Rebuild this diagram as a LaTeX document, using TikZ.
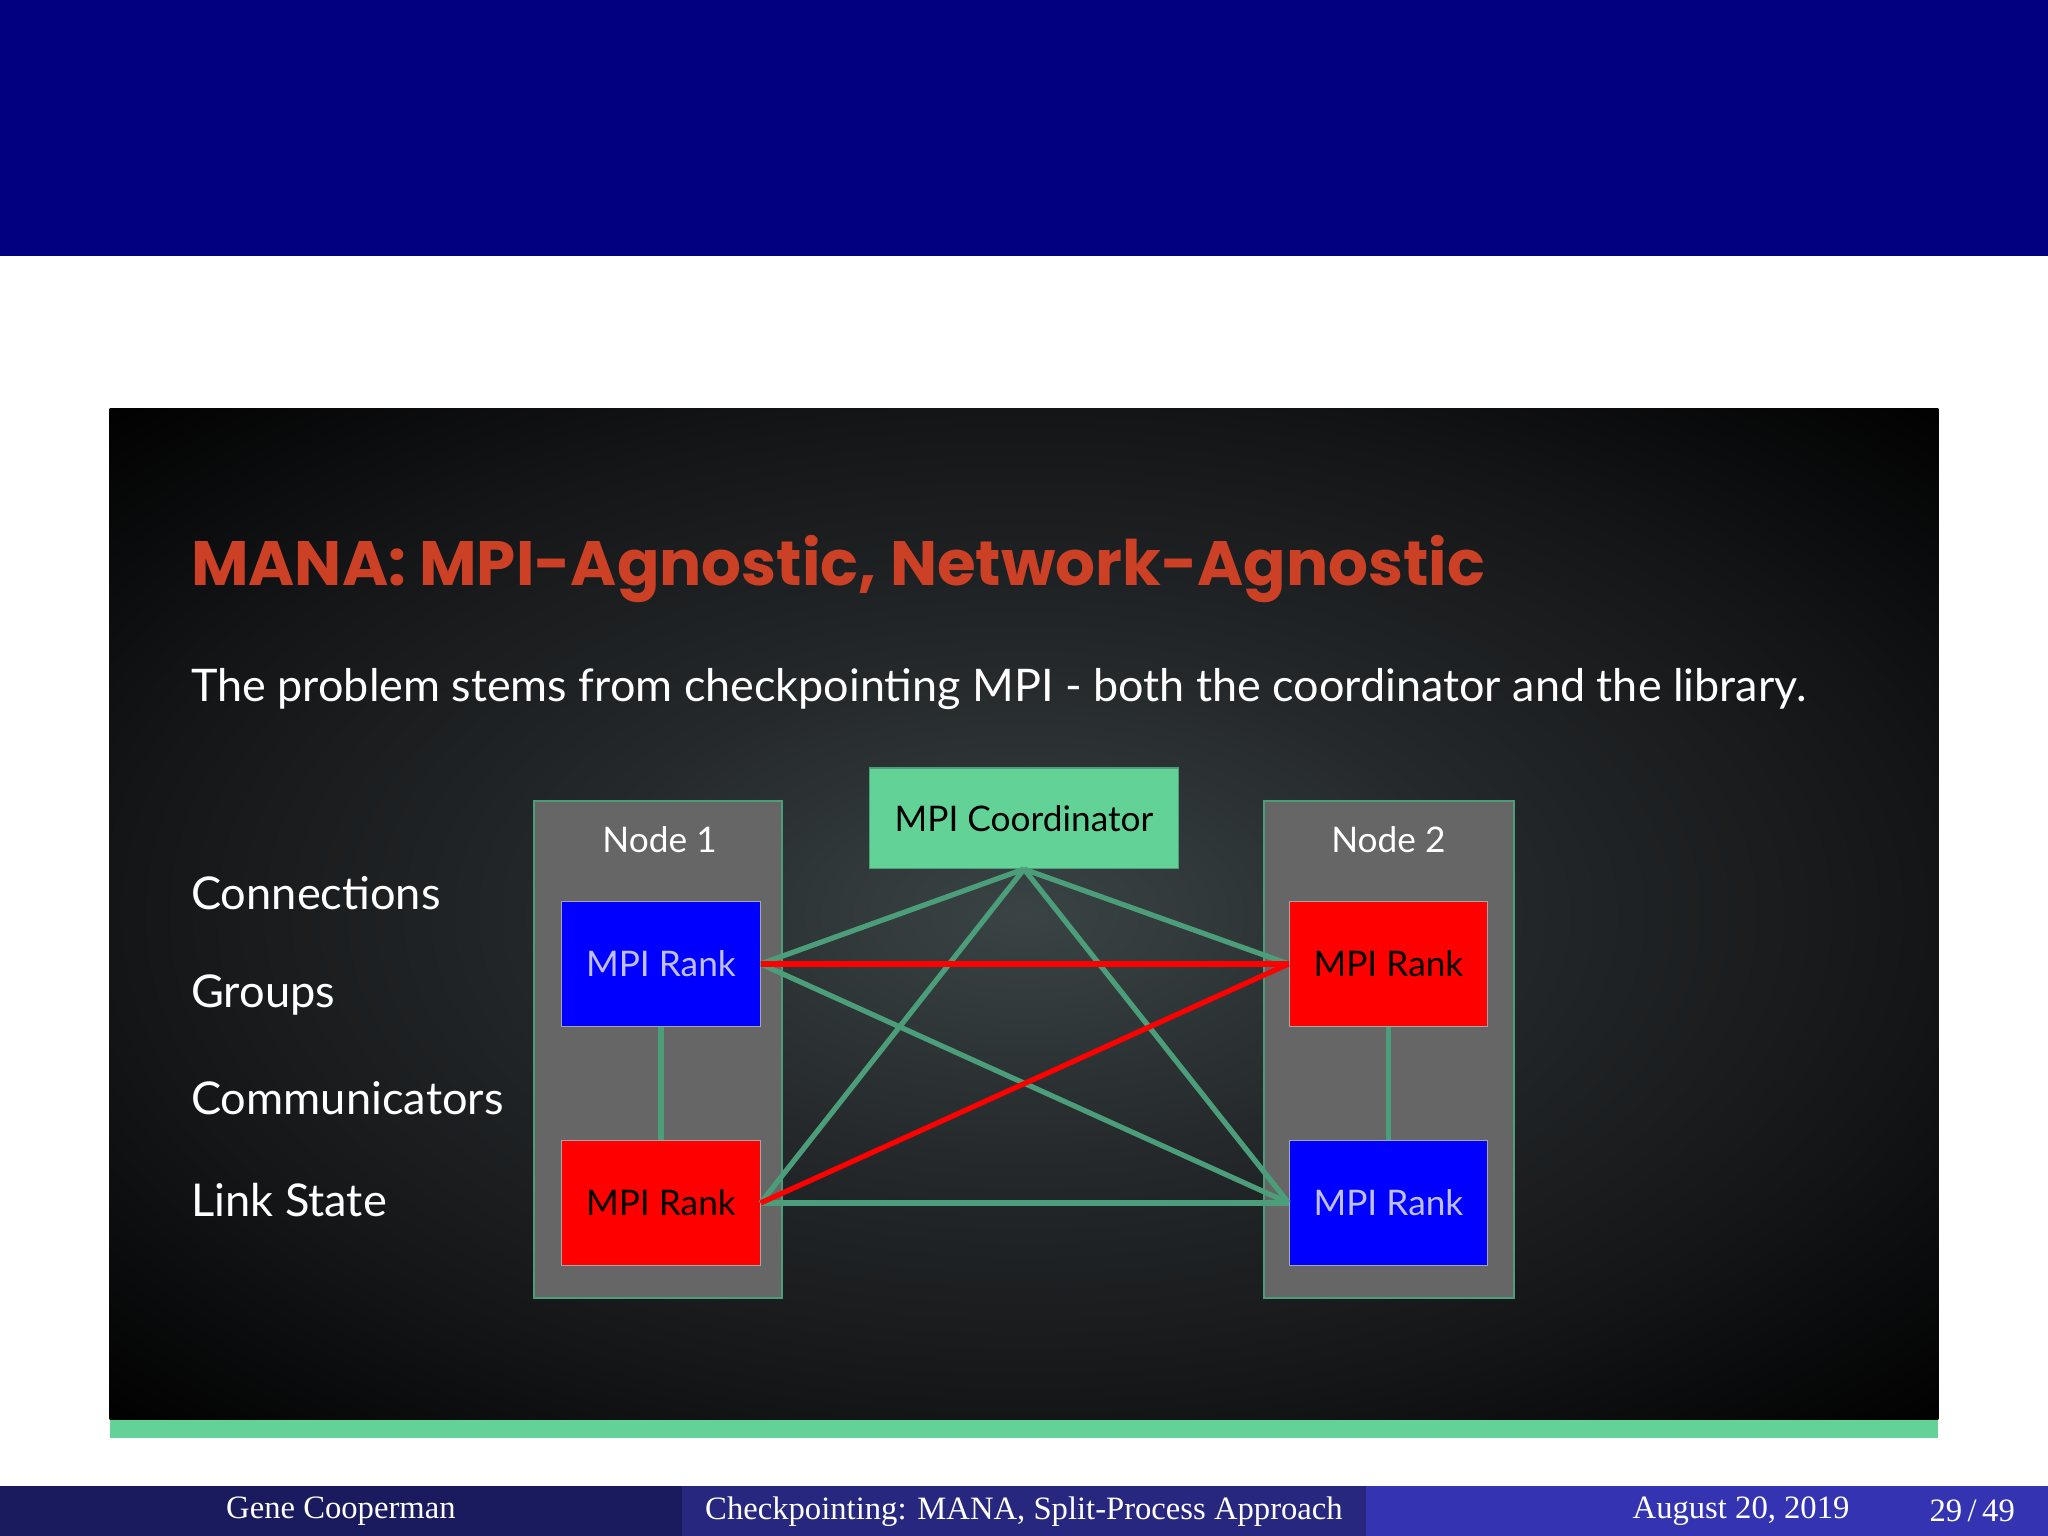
\documentclass[tikz,border=0pt]{standalone}
\usepackage{fontspec}
\setmainfont{Liberation Serif}
\newfontfamily\sansf{Lato}
\newfontfamily\titlef{Poppins}
\usetikzlibrary{shadings}
\definecolor{navy}{HTML}{020080}
\definecolor{mgreen}{HTML}{63D297}
\definecolor{lgreen}{HTML}{4C9D7A}
\definecolor{ttl}{HTML}{CC4125}
\definecolor{ngrey}{HTML}{666666}
\definecolor{fa}{HTML}{1A1A5E}
\definecolor{fb}{HTML}{27277F}
\definecolor{fc}{HTML}{3434B3}
\definecolor{pc}{HTML}{3A4444}
\definecolor{pm}{HTML}{25292B}
\definecolor{pe}{HTML}{141517}
\pgfdeclareradialshading{panelshade}{\pgfpoint{0bp}{0bp}}{color(0bp)=(pc);color(12bp)=(pm);color(25bp)=(pe);color(36bp)=(black);color(50bp)=(black)}
\tikzset{
  box/.style={draw=lgreen, line width=0.8pt, fill=ngrey},
  rank/.style={draw=gray!70, line width=0.4pt, minimum width=76pt, minimum height=48pt, inner sep=0pt, font=\sansf\fontsize{13.5}{15}\selectfont},
  gl/.style={lgreen, line width=2pt},
  rl/.style={red, line width=2pt},
  lab/.style={anchor=west, text=white, font=\sansf\fontsize{17.3}{19}\selectfont, inner sep=0pt},
}
\begin{document}
\begin{tikzpicture}[x=0.5pt,y=-0.5pt]
\useasboundingbox (0,0) rectangle (1568,1176);
\fill[white] (0,0) rectangle (1568,1176);
\fill[navy] (0,0) rectangle (1568,196);
\shade[shading=panelshade] (84,313) rectangle (1484,1087);
\fill[mgreen] (84,1087) rectangle (1484,1101);
\node[anchor=base west, inner sep=0pt, text=ttl, font=\titlef\bfseries\fontsize{24}{26}\selectfont] (title) at (146,448) {MANA: MPI-Agnostic, Network-Agnostic};
\node[anchor=base west, inner sep=0pt, text=white, font=\sansf\fontsize{17.2}{19}\selectfont] (sub) at (146,537) {The problem stems from checkpointing MPI - both the coordinator and the library.};
\node[lab] (l1) at (146,684) {Connections};
\node[lab] (l2) at (146,762) {Groups};
\node[lab] (l3) at (146,841) {Communicators};
\node[lab] (l4) at (146,919) {Link State};
\draw[box] (409,613) rectangle (599,994);
\draw[box] (968,613) rectangle (1159,994);
\node[text=white, font=\sansf\fontsize{13.5}{15}\selectfont] (n1) at (505,643) {Node 1};
\node[text=white, font=\sansf\fontsize{13.5}{15}\selectfont] (n2) at (1063,643) {Node 2};
\node[draw=lgreen, fill=mgreen, minimum width=118pt, minimum height=38.5pt, inner sep=0pt, font=\sansf\fontsize{13.5}{15}\selectfont] (co) at (784,626.5) {MPI Coordinator};
\node[rank, fill=blue, text=white!75!blue] (r1) at (506,738) {MPI Rank};
\node[rank, fill=red, text=black] (r3) at (506,921) {MPI Rank};
\node[rank, fill=red, text=black] (r2) at (1063,738) {MPI Rank};
\node[rank, fill=blue, text=white!75!blue] (r4) at (1063,921) {MPI Rank};
\draw[gl] (r1.south) -- (r3.north);
\draw[gl] (r2.south) -- (r4.north);
\draw[gl] (co.south) -- (r1.east);
\draw[gl] (co.south) -- (r2.west);
\draw[gl] (co.south) -- (r3.east);
\draw[gl] (co.south) -- (r4.west);
\draw[gl] (r1.east) -- (r4.west);
\draw[gl] (r3.east) -- (r4.west);
\draw[rl] (r1.east) -- (r2.west);
\draw[rl] (r3.east) -- (r2.west);
\fill[fa] (0,1138) rectangle (522,1176);
\fill[fb] (522,1138) rectangle (1046,1176);
\fill[fc] (1046,1138) rectangle (1568,1176);
\node[text=white, font=\fontsize{12.5}{14}\selectfont] (f1) at (261,1157) {Gene Cooperman};
\node[text=white, font=\fontsize{12.5}{14}\selectfont] (f2) at (784,1157) {Checkpointing: MANA, Split-Process Approach};
\node[text=white, font=\fontsize{12.5}{14}\selectfont] (f3) at (1333,1157) {August 20, 2019};
\node[text=white, font=\fontsize{12.5}{14}\selectfont] (f4) at (1510,1157) {29\,/\,49};
\end{tikzpicture}
\end{document}
